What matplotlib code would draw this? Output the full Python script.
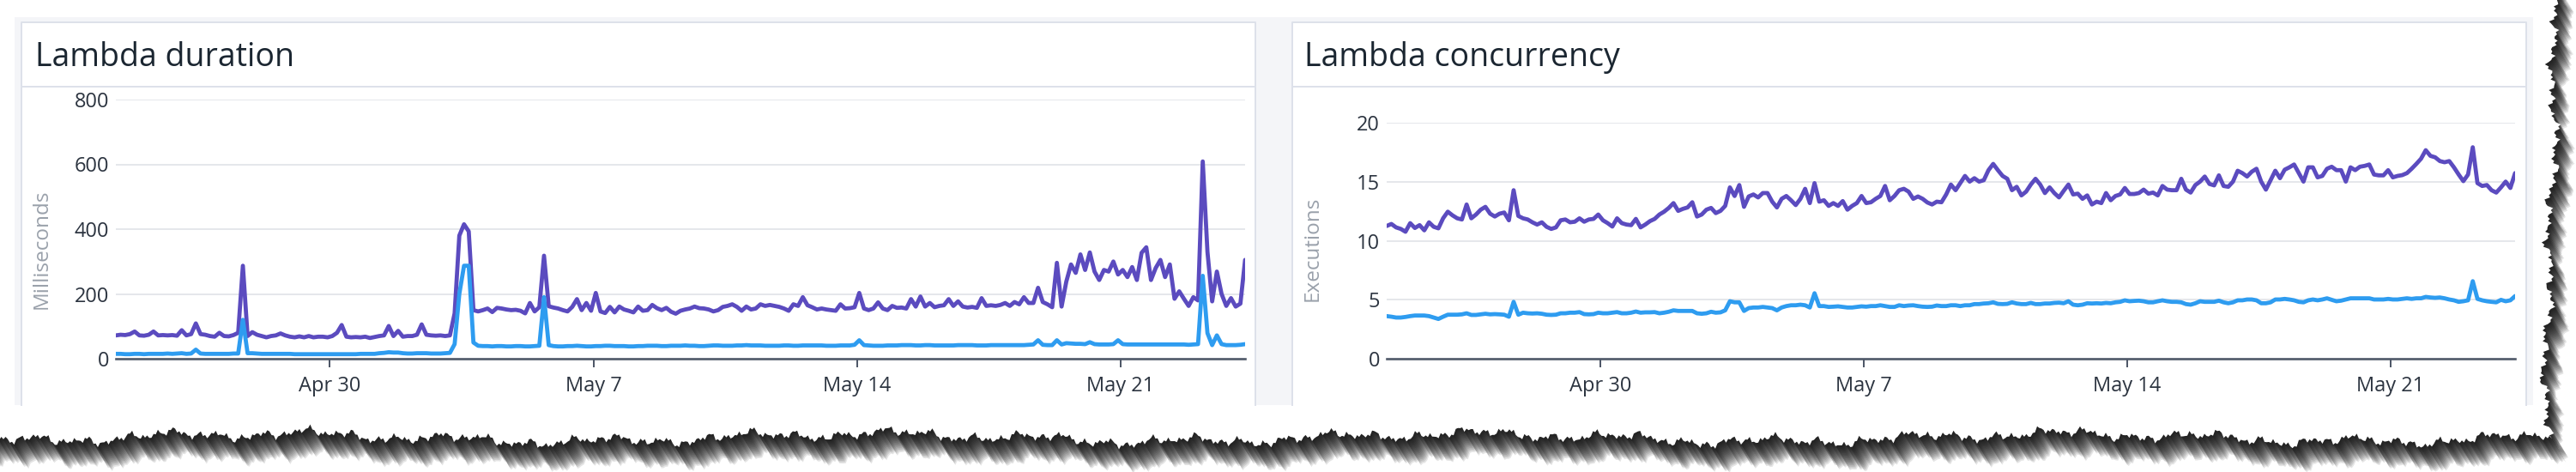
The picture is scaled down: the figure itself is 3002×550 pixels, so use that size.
import numpy as np
import pandas as pd
import matplotlib
matplotlib.use("Agg")
import matplotlib.pyplot as plt
import matplotlib.dates as mdates
from matplotlib.patches import Rectangle, Polygon

W, H = 3002, 550

# 3-hourly samples over the last 30 days
times = pd.date_range("2023-04-24 07:30", periods=241, freq="3h")

duration_purple = [
    72, 74, 73, 76, 84, 72, 71, 74, 84, 72,
    73, 72, 73, 71, 88, 72, 76, 109, 76, 74,
    70, 68, 80, 70, 69, 73, 80, 287, 70, 82,
    74, 70, 66, 70, 72, 78, 72, 68, 66, 69,
    66, 70, 66, 68, 68, 66, 70, 80, 104, 68,
    66, 67, 66, 68, 64, 67, 70, 72, 101, 70,
    86, 68, 70, 70, 74, 106, 74, 72, 71, 72,
    70, 72, 140, 380, 415, 393, 150, 146, 150, 155,
    144, 157, 155, 152, 150, 151, 148, 140, 172, 146,
    159, 318, 162, 158, 155, 150, 146, 160, 184, 150,
    172, 148, 203, 146, 141, 160, 143, 161, 152, 148,
    143, 161, 148, 150, 166, 156, 150, 157, 145, 139,
    148, 152, 155, 161, 156, 155, 152, 146, 150, 160,
    163, 168, 160, 148, 161, 152, 155, 168, 163, 166,
    163, 160, 155, 148, 168, 163, 190, 165, 159, 152,
    155, 152, 150, 148, 168, 155, 156, 159, 203, 155,
    150, 155, 174, 155, 150, 163, 157, 158, 155, 184,
    161, 192, 161, 172, 159, 163, 165, 184, 163, 177,
    161, 158, 160, 157, 187, 163, 165, 163, 166, 172,
    163, 175, 168, 190, 172, 172, 219, 175, 168, 159,
    296, 161, 238, 291, 265, 322, 274, 328, 269, 243,
    274, 269, 300, 260, 274, 252, 283, 243, 327, 344,
    243, 280, 305, 252, 291, 185, 208, 185, 163, 190,
    180, 609, 330, 177, 269, 200, 163, 187, 161, 170,
    305,
]
duration_blue = [
    15, 15, 14, 14, 15, 15, 14, 15, 15, 15,
    15, 16, 15, 16, 17, 15, 16, 28, 16, 15,
    15, 15, 15, 15, 15, 16, 16, 120, 17, 17,
    16, 15, 15, 15, 15, 15, 15, 15, 14, 14,
    14, 14, 14, 14, 14, 14, 14, 14, 14, 14,
    14, 14, 15, 15, 15, 15, 17, 18, 20, 19,
    19, 17, 16, 16, 17, 17, 17, 16, 16, 16,
    17, 18, 45, 200, 287, 287, 50, 40, 39, 39,
    38, 39, 39, 38, 38, 39, 39, 38, 38, 39,
    40, 190, 42, 39, 38, 38, 39, 39, 40, 39,
    38, 38, 39, 39, 40, 40, 39, 39, 39, 38,
    38, 39, 39, 40, 40, 40, 39, 39, 40, 40,
    40, 41, 40, 40, 39, 39, 40, 41, 41, 40,
    40, 40, 41, 41, 42, 41, 41, 41, 40, 40,
    40, 40, 41, 41, 40, 40, 41, 41, 41, 41,
    41, 40, 40, 40, 41, 41, 41, 43, 57, 42,
    41, 40, 40, 40, 41, 41, 41, 42, 42, 42,
    41, 41, 42, 42, 41, 41, 41, 41, 41, 42,
    42, 42, 42, 41, 41, 41, 42, 42, 42, 42,
    42, 42, 42, 42, 43, 44, 57, 43, 42, 42,
    57, 44, 48, 47, 46, 46, 45, 51, 45, 44,
    44, 44, 45, 57, 45, 44, 44, 44, 44, 44,
    44, 44, 44, 44, 44, 44, 44, 44, 43, 44,
    45, 256, 79, 42, 72, 45, 42, 42, 42, 43,
    45,
]
concurrency_purple = [
    11.25, 11.42, 11.13, 11.0, 10.76, 11.49, 11.08, 11.32, 10.88, 11.56,
    11.18, 11.05, 11.9, 12.46, 12.15, 11.9, 11.8, 13.07, 11.9, 12.22,
    12.63, 12.87, 12.29, 12.05, 12.29, 12.39, 11.73, 14.28, 12.1, 11.9,
    11.8, 11.56, 11.37, 11.56, 11.18, 11.0, 11.13, 11.73, 11.8, 11.56,
    11.61, 11.9, 11.61, 11.8, 11.85, 12.22, 11.73, 11.49, 11.2, 11.9,
    11.49, 11.37, 11.32, 11.85, 11.13, 11.37, 11.66, 11.85, 12.22, 12.46,
    12.78, 13.19, 12.53, 12.7, 12.82, 13.26, 12.05, 12.22, 12.63, 12.78,
    12.34, 12.53, 12.95, 14.52, 13.79, 14.72, 12.87, 13.75, 13.92, 13.67,
    14.04, 14.04, 13.31, 12.82, 13.55, 13.79, 13.43, 13.02, 13.55, 14.4,
    13.19, 14.88, 13.31, 13.43, 12.95, 13.19, 12.95, 13.36, 12.63, 12.95,
    13.19, 13.79, 13.19, 13.26, 13.55, 13.79, 14.64, 13.43, 13.79, 14.28,
    14.4, 14.16, 13.55, 13.75, 13.55, 13.24, 13.07, 13.31, 13.26, 13.92,
    14.76, 14.28, 14.88, 15.49, 15.01, 15.3, 15.01, 15.13, 15.98, 16.51,
    15.98, 15.49, 15.25, 14.28, 14.57, 13.84, 14.16, 14.76, 15.25, 14.76,
    14.04, 14.52, 14.04, 13.67, 14.23, 14.76, 13.92, 13.99, 13.55, 13.84,
    13.07, 13.31, 13.19, 14.04, 13.43, 13.79, 13.92, 14.47, 13.96, 13.96,
    14.04, 14.33, 13.99, 14.08, 13.84, 14.64, 14.33, 14.28, 14.28, 15.25,
    14.33, 14.08, 14.72, 15.01, 15.44, 14.81, 14.69, 15.54, 14.64, 14.57,
    15.01, 15.93, 15.73, 15.44, 15.85, 16.1, 15.01, 14.33, 15.13, 15.93,
    15.3, 16.02, 16.22, 16.46, 15.73, 15.01, 16.22, 16.22, 15.37, 15.49,
    16.1, 16.27, 15.98, 15.98, 15.01, 16.22, 15.98, 16.27, 16.34, 16.46,
    15.61, 15.54, 15.54, 15.98, 15.37, 15.49, 15.56, 15.73, 16.1, 16.51,
    16.95, 17.67, 17.19, 17.07, 16.75, 16.65, 16.75, 16.22, 15.61, 15.05,
    15.61, 17.92, 14.88, 14.64, 14.72, 14.28, 14.08, 14.52, 15.01, 14.47,
    15.73,
]
concurrency_blue = [
    3.61, 3.56, 3.49, 3.49, 3.54, 3.61, 3.66, 3.66, 3.66, 3.61,
    3.49, 3.37, 3.56, 3.73, 3.73, 3.73, 3.76, 3.85, 3.71, 3.71,
    3.76, 3.81, 3.76, 3.78, 3.76, 3.73, 3.56, 4.82, 3.73, 3.9,
    3.85, 3.83, 3.85, 3.81, 3.73, 3.71, 3.73, 3.85, 3.85, 3.9,
    3.9, 3.95, 3.78, 3.76, 3.78, 3.9, 3.85, 3.85, 3.9, 3.95,
    3.85, 3.85, 3.9, 4.0, 3.9, 3.93, 3.93, 3.95, 3.85, 3.9,
    3.98, 4.1, 4.05, 4.05, 4.05, 4.05, 3.85, 3.81, 3.85, 3.98,
    3.9, 3.93, 4.1, 4.87, 4.78, 4.78, 4.05, 4.29, 4.34, 4.34,
    4.39, 4.34, 4.29, 4.1, 4.34, 4.46, 4.53, 4.53, 4.58, 4.53,
    4.34, 5.55, 4.46, 4.46, 4.39, 4.41, 4.44, 4.39, 4.34, 4.34,
    4.39, 4.44, 4.41, 4.46, 4.46, 4.53, 4.46, 4.39, 4.39, 4.53,
    4.46, 4.51, 4.53, 4.46, 4.41, 4.39, 4.41, 4.51, 4.46, 4.46,
    4.53, 4.53, 4.46, 4.53, 4.53, 4.63, 4.63, 4.68, 4.7, 4.78,
    4.65, 4.63, 4.65, 4.78, 4.68, 4.63, 4.63, 4.73, 4.63, 4.63,
    4.68, 4.68, 4.73, 4.75, 4.7, 4.87, 4.58, 4.53, 4.58, 4.7,
    4.68, 4.7, 4.68, 4.73, 4.7, 4.78, 4.82, 4.95, 4.87, 4.9,
    4.92, 4.87, 4.78, 4.78, 4.87, 4.95, 4.87, 4.82, 4.82, 4.78,
    4.63, 4.58, 4.7, 4.87, 4.82, 4.82, 4.82, 4.92, 4.78, 4.7,
    4.78, 4.95, 4.95, 5.02, 5.02, 4.95, 4.7, 4.7, 4.78, 5.02,
    5.02, 5.07, 5.02, 4.95, 4.82, 4.78, 4.95, 5.02, 4.95, 5.02,
    5.12, 4.99, 4.87, 4.92, 5.02, 5.12, 5.12, 5.12, 5.12, 5.12,
    5.02, 5.02, 5.02, 5.07, 5.02, 5.02, 5.07, 5.12, 5.07, 5.12,
    5.12, 5.24, 5.19, 5.16, 5.19, 5.12, 5.02, 4.95, 4.82, 4.87,
    4.95, 6.57, 5.07, 4.95, 4.87, 4.82, 4.78, 4.99, 4.87, 4.95,
    5.31,
]

tick_dates = pd.to_datetime(["2023-04-30", "2023-05-07", "2023-05-14", "2023-05-21"])
tick_labels = ["Apr 30", "May 7", "May 14", "May 21"]
duration_yticks = [0, 200, 400, 600, 800]
concurrency_yticks = [0, 5, 10, 15, 20]

PURPLE = "#5b4bbf"
BLUE = "#2e9cf0"
AXIS = "#4f5868"
GRID = "#e5e7eb"
BORDER = "#dde1ea"
FONT = ["Open Sans", "DejaVu Sans"]
PT = 72 / 100  # points per pixel


def fig_rect(x0, y0, x1, y1):
    return [x0 / W, 1 - y1 / H, (x1 - x0) / W, (y1 - y0) / H]


def jag(t, p):
    return (4.5 * np.sin(t * 0.009 + p) + 3.5 * np.sin(t * 0.037 + 2 * p)
            + 2.6 * np.sin(t * 0.121 + 3 * p) + 2.4 * np.sin(t * 0.39 + p)
            + 2.0 * np.sin(t * 1.03 + 5 * p) + 1.6 * np.sin(t * 2.27 + 7 * p))


fig = plt.figure(figsize=(W / 100, H / 100), dpi=100)
fig.patch.set_facecolor("white")
bg = fig.add_axes([0, 0, 1, 1])
bg.set_xlim(0, W)
bg.set_ylim(H, 0)
bg.axis("off")

# torn paper edge with a soft shadow
ry = np.arange(-60, 510, 2.5)
rx = 2972 + jag(ry, 0.7)
bx = np.arange(2974, -61, -2.5)
by = 510 + jag(bx, 1.9)
paper = np.vstack([[[-60, -60]], np.column_stack([rx, ry]), np.column_stack([bx, by]), [[-60, 520]]])
for s in np.linspace(1, 28, 18):
    bg.add_patch(Polygon(paper + [0.6 * s, s], closed=True, fc="black", ec="none", alpha=0.1, zorder=1))
bg.add_patch(Polygon(paper, closed=True, fc="white", ec="none", zorder=2))

# dashboard background and the two panels
bg.add_patch(Rectangle((17, 20), 2935, 452, fc="#f4f5f8", ec="none", zorder=3))
for x0, x1 in [(25, 1463), (1506, 2944)]:
    bg.add_patch(Rectangle((x0, 26), x1 - x0, 446, fc="white", ec="none", zorder=4))
    bg.plot([x0, x0, x1, x1], [472, 26, 26, 472], color=BORDER, lw=2 * PT, zorder=5)
    bg.plot([x0, x1], [101, 101], color=BORDER, lw=2 * PT, zorder=5)

panels = [
    ("Lambda duration", "Milliseconds", duration_purple, duration_blue,
     duration_yticks, (135, 116, 1451, 418), 41, 49),
    ("Lambda concurrency", "Executions", concurrency_purple, concurrency_blue,
     concurrency_yticks, (1616, 143, 2931, 418), 1520, 1530),
]

t = mdates.date2num(times.to_pydatetime())
for title, ylabel, top, bottom, yticks, box, title_x, label_x in panels:
    ax = fig.add_axes(fig_rect(*box))
    ax.set_facecolor("none")
    ax.plot(t, top, color=PURPLE, lw=4.8 * PT, solid_joinstyle="round", solid_capstyle="round", zorder=3)
    ax.plot(t, bottom, color=BLUE, lw=4.8 * PT, solid_joinstyle="round", solid_capstyle="round", zorder=4)
    ax.set_xlim(t[0], t[-1])
    ax.set_ylim(yticks[0], yticks[-1])
    ax.set_yticks(yticks)
    ax.set_xticks(mdates.date2num(tick_dates.to_pydatetime()), labels=tick_labels)
    ax.grid(axis="y", color=GRID, lw=2 * PT)
    ax.set_axisbelow(True)
    ax.spines[["top", "left", "right"]].set_visible(False)
    ax.spines["bottom"].set_color(AXIS)
    ax.spines["bottom"].set_linewidth(2.6 * PT)
    ax.tick_params(axis="y", length=0, pad=8 * PT, labelsize=17, labelcolor="#2c3440")
    ax.tick_params(axis="x", length=10 * PT, width=2 * PT, color=AXIS, pad=10 * PT,
                   labelsize=17, labelcolor="#2c3440")
    for lab in ax.get_xticklabels() + ax.get_yticklabels():
        lab.set_family(FONT)

    fig.text(title_x / W, 1 - 77 / H, title, fontsize=27, color="#1b2631",
             family=FONT, va="baseline", ha="left")
    fig.text(label_x / W, 1 - 290 / H, ylabel, fontsize=17.5, color="#9aa1ab",
             family=FONT, rotation=90, va="center", ha="center")

fig.savefig("out.png", dpi=100)
